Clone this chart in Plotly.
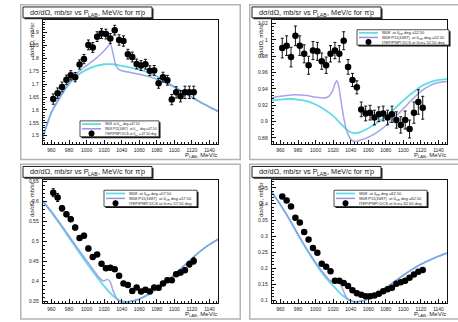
import plotly.graph_objects as go

W, H = 458, 322

# ---------------- data ----------------
# beam momentum of the ITEP/PNPI points, MeV/c
p_lab = [962, 967, 972, 977, 982, 987, 992, 997, 1002, 1007, 1012, 1017, 1022,
         1027, 1032, 1037, 1042, 1047, 1052, 1057, 1062, 1067, 1072, 1077,
         1082, 1087, 1092, 1097, 1102, 1107, 1112, 1117, 1122]

# measured dσ/dΩ (mb/sr) and errors, one list per c.m. angle
dcs_47 = [1.642, 1.665, 1.689, 1.717, 1.734, 1.727, 1.776, 1.797, 1.852, 1.842,
          1.884, 1.896, 1.894, 1.877, 1.909, 1.871, 1.867, 1.816, 1.805, 1.778,
          1.772, 1.777, 1.752, 1.753, 1.703, 1.727, 1.715, 1.640, 1.668, 1.653,
          1.668, 1.668, 1.668]
err_47 = [0.020, 0.020, 0.019, 0.018, 0.018, 0.018, 0.018, 0.018, 0.019, 0.019,
          0.019, 0.019, 0.019, 0.019, 0.019, 0.020, 0.020, 0.019, 0.019, 0.019,
          0.019, 0.019, 0.019, 0.019, 0.019, 0.019, 0.019, 0.020, 0.022, 0.022,
          0.024, 0.024, 0.024]

dcs_52 = [0.990, 0.993, 0.979, 1.005, 0.993, 0.983, 0.969, 0.987, 0.986, 0.974,
          0.969, 0.983, 0.987, 0.983, 0.999, 0.967, 0.951, 0.942, 0.915, 0.910,
          0.911, 0.905, 0.909, 0.910, 0.905, 0.909, 0.902, 0.896, 0.902, 0.891,
          0.911, 0.924, 0.917]
err_52 = [0.012, 0.012, 0.012, 0.012, 0.012, 0.011, 0.011, 0.011, 0.011, 0.010,
          0.010, 0.010, 0.010, 0.010, 0.011, 0.009, 0.008, 0.008, 0.009, 0.009,
          0.009, 0.009, 0.009, 0.009, 0.009, 0.010, 0.010, 0.010, 0.011, 0.011,
          0.013, 0.015, 0.014]

dcs_57 = [0.621, 0.609, 0.582, 0.567, 0.555, 0.534, 0.508, 0.514, 0.482, 0.461,
          0.467, 0.444, 0.433, 0.434, 0.430, 0.414, 0.395, 0.391, 0.376, 0.385,
          0.375, 0.379, 0.375, 0.385, 0.384, 0.395, 0.403, 0.403, 0.418, 0.422,
          0.428, 0.443, 0.451]
err_57 = [0.010, 0.010, 0.007, 0.006, 0.006, 0.006, 0.006, 0.006, 0.006, 0.005,
          0.005, 0.005, 0.005, 0.005, 0.005, 0.005, 0.005, 0.005, 0.005, 0.005,
          0.005, 0.005, 0.005, 0.005, 0.005, 0.005, 0.005, 0.005, 0.005, 0.006,
          0.006, 0.007, 0.008]

dcs_62 = [0.423, 0.411, 0.392, 0.357, 0.342, 0.313, 0.289, 0.263, 0.248, 0.214,
          0.204, 0.190, 0.161, 0.161, 0.154, 0.144, 0.131, 0.122, 0.117, 0.112,
          0.112, 0.115, 0.120, 0.128, 0.134, 0.139, 0.151, 0.156, 0.161, 0.170,
          0.180, 0.189, 0.194]
err_62 = [0.004] * 33

# W08 partial-wave solution
w08_x_47 = [950, 960, 970, 980, 990, 1000, 1010, 1020, 1030, 1040, 1050, 1060,
            1070, 1080, 1090, 1100, 1110, 1120, 1130, 1140, 1150]
w08_y_47 = [1.492, 1.590, 1.650, 1.700, 1.735, 1.756, 1.770, 1.777, 1.777,
            1.771, 1.764, 1.756, 1.745, 1.730, 1.710, 1.690, 1.670, 1.650,
            1.630, 1.612, 1.595]
# W08 with an added narrow P11(1687)
p11_x_47 = [950, 960, 970, 980, 990, 1000, 1010, 1015, 1020, 1024, 1027, 1030,
            1033, 1036, 1040, 1050, 1060, 1070, 1080, 1090, 1100, 1110, 1120,
            1130, 1140, 1150]
p11_y_47 = [1.493, 1.591, 1.652, 1.705, 1.745, 1.772, 1.798, 1.813, 1.829,
            1.845, 1.857, 1.820, 1.776, 1.758, 1.752, 1.745, 1.738, 1.730,
            1.719, 1.705, 1.688, 1.668, 1.648, 1.628, 1.610, 1.593]

w08_x_52 = [950, 960, 970, 980, 990, 1000, 1010, 1020, 1030, 1038, 1045, 1050,
            1060, 1070, 1080, 1090, 1100, 1110, 1120, 1130, 1140, 1150]
w08_y_52 = [0.926, 0.927, 0.928, 0.927, 0.925, 0.921, 0.915, 0.907, 0.896,
            0.888, 0.886, 0.887, 0.892, 0.899, 0.907, 0.916, 0.926, 0.935,
            0.943, 0.948, 0.951, 0.952]
p11_x_52 = [950, 960, 975, 990, 1000, 1010, 1015, 1019, 1022, 1024, 1026, 1029,
            1032, 1035, 1039, 1043, 1050, 1060, 1070, 1080, 1090, 1100, 1110,
            1120, 1130, 1140, 1150]
p11_y_52 = [0.929, 0.931, 0.933, 0.932, 0.930, 0.929, 0.931, 0.937, 0.946,
            0.950, 0.945, 0.925, 0.905, 0.890, 0.880, 0.876, 0.877, 0.881,
            0.887, 0.895, 0.905, 0.916, 0.927, 0.937, 0.944, 0.948, 0.949]

w08_x_57 = [950, 960, 970, 980, 990, 1000, 1010, 1020, 1030, 1038, 1045, 1050,
            1060, 1070, 1080, 1090, 1100, 1110, 1120, 1130, 1140, 1150]
w08_y_57 = [0.600, 0.572, 0.541, 0.509, 0.477, 0.446, 0.416, 0.388, 0.364,
            0.352, 0.349, 0.350, 0.356, 0.367, 0.381, 0.398, 0.417, 0.437,
            0.457, 0.476, 0.492, 0.505]
p11_x_57 = [950, 960, 970, 980, 990, 1000, 1008, 1014, 1019, 1024, 1027, 1030,
            1034, 1038, 1042, 1050, 1060, 1070, 1080, 1090, 1100, 1110, 1120,
            1130, 1140, 1150]
p11_y_57 = [0.601, 0.574, 0.544, 0.513, 0.482, 0.452, 0.428, 0.410, 0.401,
            0.405, 0.398, 0.378, 0.358, 0.350, 0.348, 0.350, 0.356, 0.367,
            0.381, 0.398, 0.417, 0.437, 0.457, 0.476, 0.492, 0.505]

w08_x_62 = [950, 960, 970, 980, 990, 1000, 1010, 1020, 1030, 1040, 1045, 1050,
            1060, 1070, 1080, 1090, 1100, 1110, 1120, 1130, 1140, 1150]
w08_y_62 = [0.437, 0.397, 0.352, 0.303, 0.257, 0.214, 0.176, 0.145, 0.116,
            0.098, 0.095, 0.096, 0.104, 0.119, 0.138, 0.158, 0.178, 0.196,
            0.212, 0.225, 0.237, 0.247]
p11_x_62 = [950, 960, 970, 980, 990, 1000, 1010, 1016, 1021, 1026, 1029, 1033,
            1037, 1042, 1050, 1060, 1070, 1080, 1090, 1100, 1110, 1120, 1130,
            1140, 1150]
p11_y_62 = [0.438, 0.398, 0.354, 0.306, 0.260, 0.218, 0.181, 0.162, 0.156,
            0.155, 0.146, 0.120, 0.102, 0.096, 0.096, 0.104, 0.119, 0.138,
            0.158, 0.178, 0.196, 0.212, 0.225, 0.237, 0.247]

angles = ["47.50", "52.50", "57.50", "62.50"]
y_ranges = [(1.468, 1.948), (0.8727, 1.0242), (0.345, 0.6535), (0.0898, 0.476)]
y_dticks = [0.05, 0.02, 0.05, 0.05]

# ---------------- styling ----------------
CYAN = "#5fdde8"
VIOLET = "#9494e4"
FONT = "Liberation Sans, Arial, sans-serif"
TXT = "#222222"

# approximate Helvetica/Arial advance widths (per 1000 em) used to lay out
# runs of text with lowered / raised parts
ADV = {" ": 278, ",": 278, "-": 333, ".": 278, "/": 278, "=": 584, "(": 333,
       ")": 333, "A": 667, "B": 667, "C": 722, "D": 722, "E": 667, "I": 278,
       "L": 556, "M": 833, "N": 722, "P": 667, "S": 667, "T": 611, "V": 667,
       "W": 944, "a": 556, "b": 556, "c": 500, "d": 556, "e": 556, "f": 278,
       "g": 556, "m": 833, "o": 556, "p": 556, "r": 333, "s": 500, "t": 278,
       "v": 500, "σ": 600, "Ω": 770, "π": 590, "θ": 560}


def adv(s, size):
    return sum(ADV.get(ch, 556) for ch in s) * size / 1000.0


def px(x):
    return x / W


def py(y):
    return 1 - y / H


def text_run(parts, x, y, align="left"):
    """parts: (text, size, dy) tuples; dy shifts a part down in pixels."""
    total = sum(adv(t, s) for t, s, _ in parts)
    if align == "center":
        x -= total / 2
    elif align == "right":
        x -= total
    out = []
    for t, s, dy in parts:
        out.append(dict(xref="paper", yref="paper", x=px(x), y=py(y + dy),
                        text=t, showarrow=False, xanchor="left",
                        yanchor="middle", borderpad=0, borderwidth=0,
                        font=dict(family=FONT, size=s, color=TXT)))
        x += adv(t, s)
    return out


def sub(t, s):
    return (t, round(s * 0.7, 2), 0.3 * s)


def sup(t, s):
    return (t, round(s * 0.7, 2), -0.38 * s)


# pixel offsets of the four pads
pad_offsets = [(0, 0), (229, 0), (0, 161), (229, 161)]
# legend boxes in pad-local pixels: x0, x1, y0, y1, and their text size
legend_boxes = [(80, 159, 120, 136), (128, 220, 28, 43.5),
                (104, 197, 29, 45.5), (105, 198, 29, 45.5)]
legend_font = [3.3, 4.0, 4.0, 4.0]

series = [
    (dcs_47, err_47, w08_x_47, w08_y_47, p11_x_47, p11_y_47),
    (dcs_52, err_52, w08_x_52, w08_y_52, p11_x_52, p11_y_52),
    (dcs_57, err_57, w08_x_57, w08_y_57, p11_x_57, p11_y_57),
    (dcs_62, err_62, w08_x_62, w08_y_62, p11_x_62, p11_y_62),
]

fig = go.Figure()
shapes = []
annotations = []

for i, (ox, oy) in enumerate(pad_offsets):
    k = "" if i == 0 else str(i + 1)
    xa, ya = "x" + k, "y" + k
    dcs, err, wx, wy, px11, py11 = series[i]

    fig.add_trace(go.Scatter(x=wx, y=wy, xaxis=xa, yaxis=ya, mode="lines",
                             line=dict(color=CYAN, width=1.8, shape="spline",
                                       smoothing=0.7),
                             showlegend=False, hoverinfo="skip"))
    fig.add_trace(go.Scatter(x=px11, y=py11, xaxis=xa, yaxis=ya, mode="lines",
                             opacity=0.85,
                             line=dict(color=VIOLET, width=1.5, shape="spline",
                                       smoothing=0.7),
                             showlegend=False, hoverinfo="skip"))
    fig.add_trace(go.Scatter(x=p_lab, y=dcs, xaxis=xa, yaxis=ya, mode="markers",
                             marker=dict(color="black", size=6.5, symbol="circle"),
                             error_y=dict(type="data", array=err, color="#111111",
                                          thickness=1, width=1.5),
                             showlegend=False, hoverinfo="skip"))

    fx0, fx1 = ox + 42.7, ox + 218.3
    fy0, fy1 = oy + 18.3, oy + 143.3
    axis_common = dict(showline=True, mirror=True, linecolor="#111111",
                       linewidth=1, showgrid=False, zeroline=False,
                       ticks="inside", tickcolor="#111111", tickwidth=1,
                       tickfont=dict(family=FONT, size=5, color=TXT))
    fig.layout["xaxis" + k] = dict(
        domain=[px(fx0), px(min(fx1, W))], range=[950, 1150],
        anchor=ya, tick0=960, dtick=20, ticklen=4,
        minor=dict(ticks="inside", dtick=4, ticklen=2, tickcolor="#111111"),
        ticklabelstandoff=1, **axis_common)
    lo, hi = y_ranges[i]
    fig.layout["yaxis" + k] = dict(
        domain=[py(fy1), py(fy0)], range=[lo, hi], anchor=xa,
        dtick=y_dticks[i], tick0=0, ticklen=4,
        minor=dict(ticks="inside", dtick=y_dticks[i] / 5, ticklen=2,
                   tickcolor="#111111"),
        ticklabelstandoff=2, **axis_common)

    # pad border
    shapes.append(dict(type="rect", xref="paper", yref="paper",
                       x0=px(ox + 20.75), x1=px(ox + 240.25),
                       y0=py(oy + 159), y1=py(oy + 2.7),
                       line=dict(color="#b4b4b4", width=1.5), layer="below"))

    # title box with shadow
    tx0, tx1, ty0, ty1 = ox + 23, ox + 152, oy + 5, oy + 16
    shapes.append(dict(type="rect", xref="paper", yref="paper",
                       x0=px(tx0 + 1.5), x1=px(tx1 + 1.5),
                       y0=py(ty1 + 1.5), y1=py(ty0 + 1.5),
                       line=dict(width=0), fillcolor="#222222"))
    shapes.append(dict(type="rect", xref="paper", yref="paper",
                       x0=px(tx0), x1=px(tx1), y0=py(ty1), y1=py(ty0),
                       line=dict(color="#222222", width=1), fillcolor="white"))
    ts = 7.3
    annotations += text_run(
        [("dσ/dΩ, mb/sr vs P", ts, 0), sub("LAB", ts),
         (", MeV/c for π", ts, 0), sup("-", ts), ("p", ts, 0)],
        (tx0 + tx1) / 2, (ty0 + ty1) / 2, align="center")

    # axis titles
    annotations.append(dict(
        xref="paper", yref="paper", x=px(ox + 32), y=py(fy0 + 1),
        text="dσ/dΩ, mb/sr", textangle=-90, showarrow=False,
        xanchor="center", yanchor="top",
        font=dict(family=FONT, size=6, color=TXT)))
    annotations += text_run(
        [("P", 6, 0), sub("LAB", 6), (", MeV/c", 6, 0)],
        min(fx1, W) - 1, oy + 154, align="right")

    # legend box
    lx0, lx1, ly0, ly1 = legend_boxes[i]
    lx0 += ox; lx1 += ox; ly0 += oy; ly1 += oy
    shapes.append(dict(type="rect", xref="paper", yref="paper",
                       x0=px(lx0 + 1.5), x1=px(lx1 + 1.5),
                       y0=py(ly1 + 1.5), y1=py(ly0 + 1.5),
                       line=dict(width=0), fillcolor="#111111"))
    shapes.append(dict(type="rect", xref="paper", yref="paper",
                       x0=px(lx0), x1=px(lx1), y0=py(ly1), y1=py(ly0),
                       line=dict(color="#222222", width=0.8), fillcolor="white"))
    rows = [ly0 + (ly1 - ly0) * f for f in (0.2, 0.5, 0.8)]
    shapes.append(dict(type="line", xref="paper", yref="paper",
                       x0=px(lx0 + 2), x1=px(lx0 + 21), y0=py(rows[0]), y1=py(rows[0]),
                       line=dict(color=CYAN, width=1.8)))
    shapes.append(dict(type="line", xref="paper", yref="paper",
                       x0=px(lx0 + 2), x1=px(lx0 + 21), y0=py(rows[1]), y1=py(rows[1]),
                       line=dict(color=VIOLET, width=1.5)))
    mx = lx0 + 11.5
    shapes.append(dict(type="line", xref="paper", yref="paper",
                       x0=px(mx), x1=px(mx), y0=py(rows[2] - 3), y1=py(rows[2] + 3),
                       line=dict(color="black", width=1)))
    shapes.append(dict(type="circle", xref="paper", yref="paper",
                       x0=px(mx - 3), x1=px(mx + 3), y0=py(rows[2] + 3), y1=py(rows[2] - 3),
                       line=dict(width=0), fillcolor="black"))
    fs = legend_font[i]
    a = angles[i]
    legend_rows = [
        [("W08  at θ", fs, 0), sub("cm", fs), (f" deg.={a}", fs, 0)],
        [("W08 P11(1687)  at θ", fs, 0), sub("cm", fs), (f" deg.={a}", fs, 0)],
        [("ITEP/PNPI DCS at θ", fs, 0), sub("cm", fs), (f" = {a} deg", fs, 0)],
    ]
    for r, parts in zip(rows, legend_rows):
        annotations += text_run(parts, lx0 + 25, r)

fig.update_layout(
    width=W, height=H, margin=dict(l=0, r=0, t=0, b=0),
    paper_bgcolor="white", plot_bgcolor="white",
    shapes=shapes, annotations=annotations, showlegend=False,
)

fig.write_html("out.html")
